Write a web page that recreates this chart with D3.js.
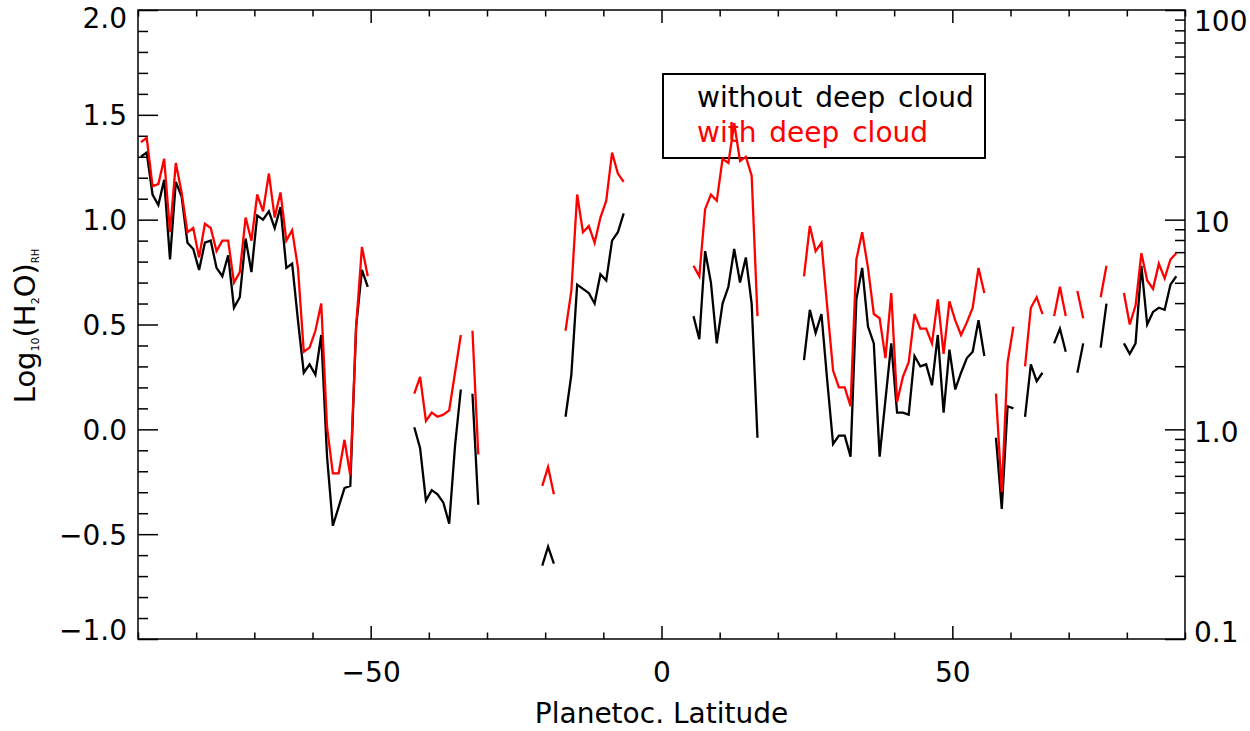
<!DOCTYPE html>
<html>
<head>
<meta charset="utf-8">
<script src="https://cdn.jsdelivr.net/npm/d3@7"></script>
<style>
  body { margin: 0; background: #fff; }
  text { font-family: "DejaVu Sans", sans-serif; }
</style>
</head>
<body>
<div id="chart"></div>
<script>
// latitude grid of the retrieval (deg)
const latitude = [
  -89.5, -88.5, -87.5, -86.5, -85.5, -84.5, -83.5, -82.5, -81.5, -80.5,
  -79.5, -78.5, -77.5, -76.5, -75.5, -74.5, -73.5, -72.5, -71.5, -70.5,
  -69.5, -68.5, -67.5, -66.5, -65.5, -64.5, -63.5, -62.5, -61.5, -60.5,
  -59.5, -58.5, -57.5, -56.5, -55.5, -54.5, -53.5, -52.5, -51.5, -50.5,
  -49.5, -48.5, -47.5, -46.5, -45.5, -44.5, -43.5, -42.5, -41.5, -40.5,
  -39.5, -38.5, -37.5, -36.5, -35.5, -34.5, -33.5, -32.5, -31.5, -30.5,
  -29.5, -28.5, -27.5, -26.5, -25.5, -24.5, -23.5, -22.5, -21.5, -20.5,
  -19.5, -18.5, -17.5, -16.5, -15.5, -14.5, -13.5, -12.5, -11.5, -10.5,
  -9.5, -8.5, -7.5, -6.5, -5.5, -4.5, -3.5, -2.5, -1.5, -0.5,
  0.5, 1.5, 2.5, 3.5, 4.5, 5.5, 6.5, 7.5, 8.5, 9.5,
  10.5, 11.5, 12.5, 13.5, 14.5, 15.5, 16.5, 17.5, 18.5, 19.5,
  20.5, 21.5, 22.5, 23.5, 24.5, 25.5, 26.5, 27.5, 28.5, 29.5,
  30.5, 31.5, 32.5, 33.5, 34.5, 35.5, 36.5, 37.5, 38.5, 39.5,
  40.5, 41.5, 42.5, 43.5, 44.5, 45.5, 46.5, 47.5, 48.5, 49.5,
  50.5, 51.5, 52.5, 53.5, 54.5, 55.5, 56.5, 57.5, 58.5, 59.5,
  60.5, 61.5, 62.5, 63.5, 64.5, 65.5, 66.5, 67.5, 68.5, 69.5,
  70.5, 71.5, 72.5, 73.5, 74.5, 75.5, 76.5, 77.5, 78.5, 79.5,
  80.5, 81.5, 82.5, 83.5, 84.5, 85.5, 86.5, 87.5, 88.5, 89.5
];

// log10 relative humidity, null = no retrieval
const withoutCloud = [
  1.30, 1.32, 1.12, 1.07, 1.19, 0.81, 1.18, 1.11, 0.89, 0.86,
  0.76, 0.89, 0.90, 0.77, 0.73, 0.83, 0.58, 0.63, 0.91, 0.75,
  1.02, 1.00, 1.04, 0.96, 1.06, 0.77, 0.79, 0.52, 0.27, 0.31,
  0.26, 0.45, -0.13, -0.46, -0.37, -0.28, -0.27, 0.49, 0.76, 0.68,
  null, null, null, null, null, null, null, 0.01, -0.09, -0.34,
  -0.29, -0.31, -0.35, -0.45, -0.08, 0.19, null, 0.17, -0.36, null,
  null, null, null, null, null, null, null, null, null, -0.65,
  -0.56, -0.64, null, 0.06, 0.26, 0.69, 0.67, 0.65, 0.60, 0.74,
  0.71, 0.90, 0.94, 1.03, null, null, null, null, null, null,
  null, null, null, null, null, 0.54, 0.43, 0.85, 0.70, 0.41,
  0.60, 0.68, 0.86, 0.70, 0.82, 0.60, -0.04, null, null, null,
  null, null, null, null, 0.33, 0.57, 0.46, 0.55, 0.23, -0.07,
  -0.03, -0.03, -0.13, 0.62, 0.77, 0.49, 0.41, -0.13, 0.14, 0.41,
  0.08, 0.08, 0.07, 0.35, 0.30, 0.31, 0.21, 0.45, 0.08, 0.38,
  0.19, 0.27, 0.34, 0.37, 0.52, 0.35, null, -0.04, -0.38, 0.11,
  0.10, null, 0.06, 0.31, 0.23, 0.27, null, 0.41, 0.48, 0.37,
  null, 0.27, 0.41, null, null, 0.39, 0.60, null, null, 0.41,
  0.36, 0.41, 0.78, 0.50, 0.56, 0.58, 0.57, 0.69, 0.73, null
];

const withCloud = [
  1.37, 1.39, 1.16, 1.17, 1.29, 0.94, 1.27, 1.13, 0.94, 0.96,
  0.82, 0.98, 0.96, 0.85, 0.90, 0.90, 0.70, 0.75, 1.01, 0.90,
  1.12, 1.04, 1.22, 1.01, 1.13, 0.90, 0.95, 0.77, 0.37, 0.39,
  0.47, 0.60, 0.01, -0.21, -0.21, -0.05, -0.22, 0.49, 0.87, 0.73,
  null, null, null, null, null, null, null, 0.17, 0.25, 0.04,
  0.08, 0.06, 0.07, 0.09, 0.27, 0.45, null, 0.47, -0.12, null,
  null, null, null, null, null, null, null, null, null, -0.27,
  -0.18, -0.31, null, 0.47, 0.66, 1.12, 0.94, 0.97, 0.89, 1.01,
  1.09, 1.32, 1.22, 1.18, null, null, null, null, null, null,
  null, null, null, null, null, 0.78, 0.73, 1.05, 1.12, 1.09,
  1.29, 1.27, 1.46, 1.28, 1.30, 1.21, 0.54, null, null, null,
  null, null, null, null, 0.73, 0.97, 0.85, 0.89, 0.58, 0.28,
  0.20, 0.20, 0.11, 0.81, 0.94, 0.77, 0.55, 0.53, 0.34, 0.65,
  0.13, 0.25, 0.32, 0.55, 0.48, 0.48, 0.41, 0.62, 0.36, 0.61,
  0.52, 0.45, 0.51, 0.58, 0.77, 0.65, null, 0.17, -0.30, 0.32,
  0.49, null, 0.30, 0.58, 0.63, 0.55, null, 0.54, 0.68, 0.54,
  null, 0.66, 0.53, null, null, 0.63, 0.78, null, null, 0.65,
  0.50, 0.59, 0.84, 0.71, 0.67, 0.79, 0.72, 0.81, 0.84, null
];

// ticks
const xMajorTicks = [-50, 0, 50];
const yMajorTicks = [-1.0, -0.5, 0.0, 0.5, 1.0, 1.5, 2.0];
const rightMajorTicks = [0.1, 1, 10, 100];
const rightTickLabels = ["0.1", "1.0", "10", "100"];
const legendLabels = ["without deep cloud", "with deep cloud"];
const seriesColors = ["#000000", "#ff0000"];

const width = 1250, height = 731;
const plotLeft = 138, plotRight = 1185, plotTop = 10, plotBottom = 639;

const svg = d3.select('#chart').append('svg')
    .attr('width', width)
    .attr('height', height);

const x = d3.scaleLinear().domain([-90, 90]).range([plotLeft, plotRight]);
const y = d3.scaleLinear().domain([-1, 2]).range([plotBottom, plotTop]);
const yR = d3.scaleLog().domain([0.1, 100]).range([plotBottom, plotTop]);

// minor tick positions
const xMinor = d3.range(-90, 91, 10).filter(d => !xMajorTicks.includes(d));
const yMinor = d3.range(-10, 21).map(d => d / 10).filter(d => Math.abs(d * 2 - Math.round(d * 2)) > 1e-6);
const rMinor = [];
[0.1, 1, 10].forEach(dec => { for (let k = 2; k <= 9; k++) rMinor.push(dec * k); });

function styleAxis(g) {
  g.attr('font-family', null).attr('font-size', null);
  g.select('.domain').remove();
  g.selectAll('.tick line').attr('stroke', '#000').attr('stroke-width', 1.5);
  g.selectAll('.tick text').attr('fill', '#000').style('font-size', '28px');
}

// bottom axis
svg.append('g')
    .attr('transform', 'translate(0,' + plotBottom + ')')
    .call(d3.axisBottom(x).tickValues(xMajorTicks).tickSizeInner(-13).tickSizeOuter(0)
      .tickPadding(23).tickFormat(d3.format('d')))
    .call(styleAxis);
svg.append('g')
    .attr('transform', 'translate(0,' + plotBottom + ')')
    .call(d3.axisBottom(x).tickValues(xMinor).tickSizeInner(-6.5).tickSizeOuter(0).tickFormat(''))
    .call(styleAxis);

// top axis
svg.append('g')
    .attr('transform', 'translate(0,' + plotTop + ')')
    .call(d3.axisTop(x).tickValues(xMajorTicks).tickSizeInner(-13).tickSizeOuter(0).tickFormat(''))
    .call(styleAxis);
svg.append('g')
    .attr('transform', 'translate(0,' + plotTop + ')')
    .call(d3.axisTop(x).tickValues(xMinor).tickSizeInner(-6.5).tickSizeOuter(0).tickFormat(''))
    .call(styleAxis);

// left axis -- end labels pulled inside like the original
svg.append('g')
    .attr('transform', 'translate(' + plotLeft + ',0)')
    .call(d3.axisLeft(y).tickValues(yMajorTicks).tickSizeInner(-20).tickSizeOuter(0)
      .tickPadding(11).tickFormat(d3.format('.1f')))
    .call(styleAxis)
    .selectAll('.tick text')
    .attr('y', d => d === 2 ? 9 : (d === -1 ? -8 : 1));
svg.append('g')
    .attr('transform', 'translate(' + plotLeft + ',0)')
    .call(d3.axisLeft(y).tickValues(yMinor).tickSizeInner(-10).tickSizeOuter(0).tickFormat(''))
    .call(styleAxis);

// right axis (log RH)
svg.append('g')
    .attr('transform', 'translate(' + plotRight + ',0)')
    .call(d3.axisRight(yR).tickValues(rightMajorTicks).tickSizeInner(-20).tickSizeOuter(0)
      .tickPadding(9).tickFormat((d, i) => rightTickLabels[i]))
    .call(styleAxis)
    .selectAll('.tick text')
    .attr('y', d => d === 100 ? 12 : (d === 0.1 ? -6 : 3));
svg.append('g')
    .attr('transform', 'translate(' + plotRight + ',0)')
    .call(d3.axisRight(yR).tickValues(rMinor).tickSizeInner(-10).tickSizeOuter(0).tickFormat(''))
    .call(styleAxis);

// frame
svg.append('rect')
    .attr('x', plotLeft).attr('y', plotTop)
    .attr('width', plotRight - plotLeft).attr('height', plotBottom - plotTop)
    .attr('fill', 'none').attr('stroke', '#000').attr('stroke-width', 1.5);

// legend
svg.append('rect')
    .attr('x', 663).attr('y', 74).attr('width', 322).attr('height', 84)
    .attr('fill', 'none').attr('stroke', '#000').attr('stroke-width', 2);
legendLabels.forEach((t, i) => {
  svg.append('text')
      .attr('x', 697).attr('y', 107 + i * 35)
      .attr('fill', seriesColors[i])
      .style('font-size', '28px')
      .style('word-spacing', '4px')
      .text(t);
});

// lines
const line = d3.line()
    .defined(d => d.v !== null)
    .x(d => x(d.lat))
    .y(d => y(d.v));

[withoutCloud, withCloud].forEach((vals, k) => {
  const data = latitude.map((lat, i) => ({lat: lat, v: vals[i]}));
  svg.append('path')
      .datum(data)
      .attr('fill', 'none')
      .attr('stroke', seriesColors[k])
      .attr('stroke-width', 2.3)
      .attr('stroke-linejoin', 'miter')
      .attr('d', line);
});

// axis titles
svg.append('text')
    .attr('x', (plotLeft + plotRight) / 2).attr('y', 723)
    .attr('text-anchor', 'middle')
    .style('font-size', '28px')
    .text('Planetoc. Latitude');

const yt = svg.append('text')
    .attr('transform', 'translate(35,326) rotate(-90)')
    .attr('text-anchor', 'middle')
    .style('font-size', '29px');
yt.append('tspan').text('Log');
yt.append('tspan').attr('dy', 4).style('font-size', '11px').text('10');
yt.append('tspan').attr('dy', -4).text('(H');
yt.append('tspan').attr('dy', 4).style('font-size', '11px').text('2');
yt.append('tspan').attr('dy', -4).text('O)');
yt.append('tspan').attr('dy', 4).style('font-size', '10px').text('RH');
</script>
</body>
</html>
